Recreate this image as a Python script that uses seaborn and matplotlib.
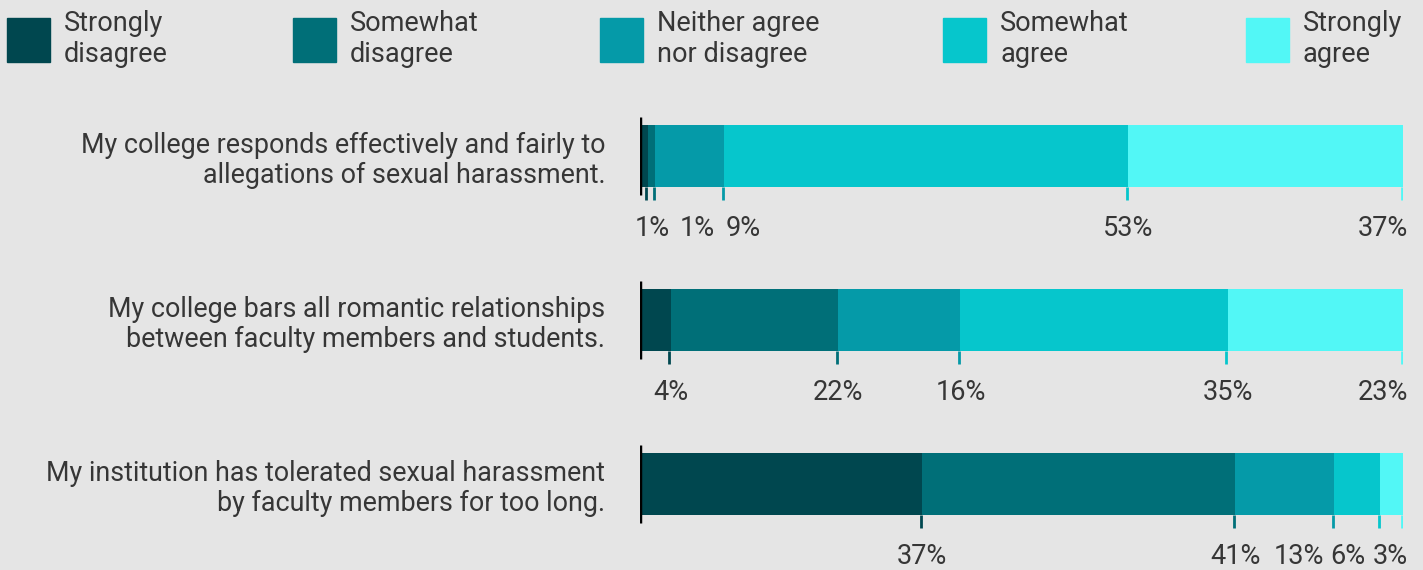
import matplotlib
matplotlib.use("Agg")
import matplotlib.pyplot as plt
import pandas as pd
import seaborn as sns
from matplotlib.patches import Rectangle

# --- data -----------------------------------------------------------------
statements = [
    "My college responds effectively and fairly to\nallegations of sexual harassment.",
    "My college bars all romantic relationships\nbetween faculty members and students.",
    "My institution has tolerated sexual harassment\nby faculty members for too long.",
]
responses = ["Strongly\ndisagree", "Somewhat\ndisagree", "Neither agree\nnor disagree",
             "Somewhat\nagree", "Strongly\nagree"]
strongly_disagree = [1, 4, 37]
somewhat_disagree = [1, 22, 41]
neither = [9, 16, 13]
somewhat_agree = [53, 35, 6]
strongly_agree = [37, 23, 3]

colors = ["#00474f", "#006f78", "#059aa8", "#06c6cc", "#52f7f6"]
BG = "#e5e5e5"
TEXT = "#363636"

W, H = 1423, 570
BAR_H = 62 / 164      # bar thickness in category units
PX = 164              # pixels per category unit (vertical)

# cumulative segment ends (rounded shares can add up to 101, so cap at 100)
series = [strongly_disagree, somewhat_disagree, neither, somewhat_agree, strongly_agree]
df = pd.DataFrame({"statement": statements})
run = [0] * len(statements)
for k, s in enumerate(series):
    run = [r + v for r, v in zip(run, s)]
    df[f"cum{k}"] = [min(r, 100) for r in run]

sns.set_theme(style="white")
plt.rcParams["font.family"] = ["Roboto", "DejaVu Sans"]

fig = plt.figure(figsize=(W / 100, H / 100), dpi=100, facecolor=BG)
ax = fig.add_axes([640 / W, 0, 763 / W, 470 / H])
ax.set_facecolor(BG)

for k in reversed(range(5)):
    sns.barplot(data=df, y="statement", x=f"cum{k}", order=statements,
                color=colors[k], saturation=1, width=BAR_H, orient="h",
                errorbar=None, linewidth=0, ax=ax)

ax.set_xlim(0, 100)
ax.set_ylim(2 + 86 / PX, -56 / PX)
ax.set_xlabel("")
ax.set_ylabel("")
ax.set_xticks([])
for sp in ax.spines.values():
    sp.set_visible(False)
ax.tick_params(axis="y", length=0, pad=25, labelsize=19.4, labelcolor=TEXT)
for lab in ax.get_yticklabels():
    lab.set_linespacing(1.15)

# baseline at 0 and segment-end ticks
for i in range(len(statements)):
    top, bot = i - BAR_H / 2, i + BAR_H / 2
    ax.vlines(0, top - 8 / PX, bot + 8 / PX, color="black", lw=2.5, zorder=5)
    for k in range(5):
        x = df.loc[i, f"cum{k}"]
        ax.vlines(x - 0.15, bot, bot + 13 / PX, color=colors[k], lw=2, zorder=4)

# percentage labels, nudged apart so they don't collide
fig.canvas.draw()
renderer = fig.canvas.get_renderer()
ux = ax.transData.transform((1, 0))[0] - ax.transData.transform((0, 0))[0]
gap_fwd, gap_back = 10 / ux, 7 / ux
for i in range(len(statements)):
    y = i + BAR_H / 2 + 42 / PX
    texts, centers, widths = [], [], []
    for k in range(5):
        x = df.loc[i, f"cum{k}"]
        t = ax.text(x, y, f"{series[k][i]}%", ha="center", va="center",
                    fontsize=19.5, color=TEXT, clip_on=False)
        texts.append(t)
        centers.append(x)
        widths.append(t.get_window_extent(renderer).width / ux)
    prev_right = -5 / ux - gap_fwd
    for k in range(5):
        left = max(centers[k] - widths[k] / 2, prev_right + gap_fwd)
        centers[k] = left + widths[k] / 2
        prev_right = left + widths[k]
    next_left = 100 + 5 / ux + gap_back
    for k in reversed(range(5)):
        right = min(centers[k] + widths[k] / 2, next_left - gap_back)
        centers[k] = right - widths[k] / 2
        next_left = right - widths[k]
    for t, c in zip(texts, centers):
        t.set_x(c)

# legend across the top
legend_x = [7, 293, 600, 943, 1246]
for lx, lab, c in zip(legend_x, responses, colors):
    fig.patches.append(Rectangle((lx / W, 1 - 62 / H), 43 / W, 44 / H,
                                 transform=fig.transFigure, color=c))
    fig.text((lx + 57) / W, 1 - 39 / H, lab, ha="left", va="center",
             fontsize=19.5, color=TEXT, linespacing=1.15)

fig.savefig("out.png", dpi=100, facecolor=BG)
